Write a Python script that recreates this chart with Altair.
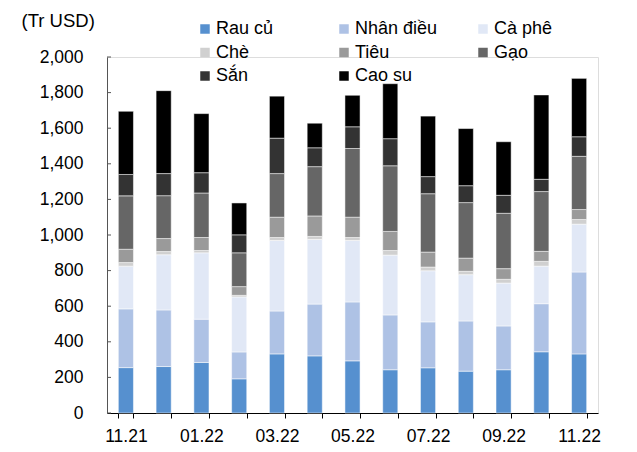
import json
import altair as alt
import pandas as pd

months = ["11.21", "12.21", "01.22", "02.22", "03.22", "04.22", "05.22",
          "06.22", "07.22", "08.22", "09.22", "10.22", "11.22"]
shown_labels = ["11.21", "01.22", "03.22", "05.22", "07.22", "09.22", "11.22"]
series = ["Rau củ", "Nhân điều", "Cà phê", "Chè", "Tiêu", "Gạo", "Sắn", "Cao su"]
colors = ["#5690CF", "#AEC2E5", "#E1E8F6", "#D0D0D0", "#9A9A9A", "#666666", "#333333", "#000000"]

rau_cu = [255, 261, 284, 192, 332, 321, 293, 243, 254, 235, 243, 344, 332]
nhan_dieu = [330, 318, 243, 151, 241, 291, 331, 308, 258, 282, 246, 270, 460]
ca_phe = [240, 310, 373, 309, 396, 363, 345, 336, 287, 260, 241, 211, 269]
che = [20, 18, 13, 9, 17, 17, 17, 26, 21, 19, 21, 27, 26]
tieu = [75, 73, 73, 49, 114, 115, 114, 107, 84, 74, 60, 56, 56]
gao = [300, 241, 250, 190, 245, 277, 386, 369, 328, 312, 311, 336, 299]
san = [120, 124, 114, 101, 199, 106, 122, 152, 96, 95, 101, 69, 110]
cao_su = [355, 466, 332, 179, 236, 138, 177, 309, 340, 321, 301, 474, 328]

y_ticks = [0, 200, 400, 600, 800, 1000, 1200, 1400, 1600, 1800, 2000]

all_vals = [rau_cu, nhan_dieu, ca_phe, che, tieu, gao, san, cao_su]
rows = []
for si, (name, vals) in enumerate(zip(series, all_vals)):
    for m, v in zip(months, vals):
        rows.append({"month": m, "series": name, "value": v, "order": si})
df = pd.DataFrame(rows)

label_expr = "indexof(" + json.dumps(shown_labels) + ", datum.value) >= 0 ? datum.label : ''"

y_scale = alt.Scale(domain=[0, 2000], nice=False)
y_axis = alt.Axis(values=y_ticks, format=",.0f", ticks=False, labelPadding=24,
                  labelOverlap=False,
                  labelFontSize=17.5, labelColor="black", grid=False,
                  domainColor="#555555",
                  title="(Tr USD)", titleAngle=0, titleX=-86, titleY=-37,
                  titleAlign="left", titleBaseline="middle",
                  titleFontSize=18.5, titleFontWeight="normal", titleColor="black")

bars = alt.Chart(df).mark_bar(stroke="white", strokeWidth=0.5).encode(
    x=alt.X("month:N", sort=months,
            scale=alt.Scale(paddingInner=0.6, paddingOuter=0.3),
            axis=alt.Axis(title=None, labelAngle=0, labelExpr=label_expr,
                          tickBand="extent", tickSize=5, labelPadding=9,
                          labelFontSize=17.5, labelColor="black",
                          domainColor="black", tickColor="black", grid=False)),
    y=alt.Y("value:Q", stack="zero", scale=y_scale, axis=y_axis),
    color=alt.Color("series:N", scale=alt.Scale(domain=series, range=colors),
                    legend=alt.Legend(title=None, orient="none", legendX=89, legendY=-37,
                                      direction="horizontal",
                                      columns=3, columnPadding=36, rowPadding=5.5,
                                      symbolType="square", symbolSize=90,
                                      symbolStrokeWidth=0, labelFontSize=18,
                                      labelOffset=2, gridAlign="all", padding=0,
                                      labelColor="black")),
    order=alt.Order("order:Q", sort="ascending"),
)

ticks_df = pd.DataFrame({"value": y_ticks})
ticks = alt.Chart(ticks_df).mark_rule(color="#555555", strokeWidth=1).encode(
    y=alt.Y("value:Q", scale=y_scale, axis=y_axis),
    x=alt.value(0),
    x2=alt.value(4),
)

chart = alt.layer(bars, ticks).properties(
    width=491, height=356,
    autosize=alt.AutoSizeParams(type="none"),
    padding={"left": 99, "top": 49, "right": 30, "bottom": 36},
).configure_view(stroke=None).configure(font="Liberation Sans")

chart.save("out.html", embed_options={"renderer": "svg", "actions": False})
